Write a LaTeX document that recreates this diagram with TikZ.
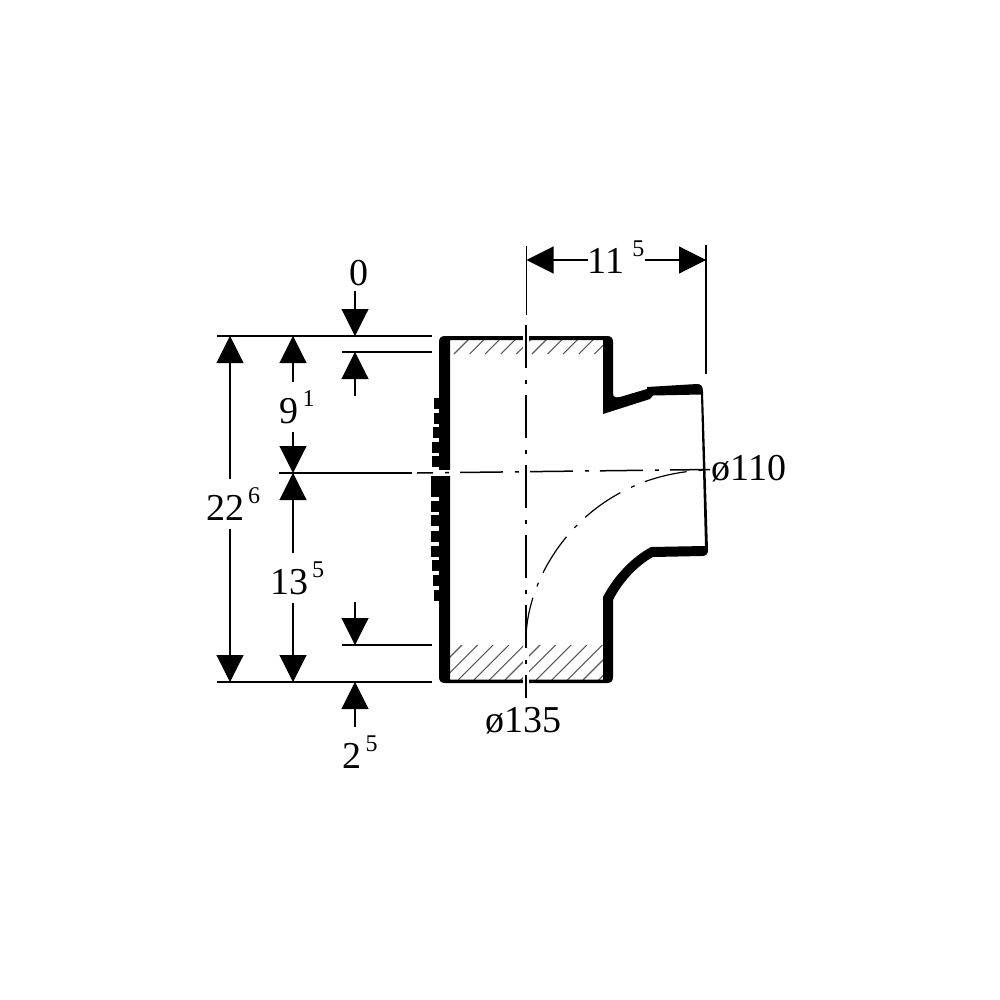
\documentclass[tikz,border=0pt]{standalone}
\usepackage{fontspec}
\setmainfont{Liberation Serif}
\usetikzlibrary{arrows.meta,calc}
\newcommand{\dimtext}[2]{\fontsize{38}{38}\selectfont #1\raisebox{17pt}{\fontsize{24}{24}\selectfont #2}}
\tikzset{
    dimline/.style={line width=1.1pt, black, -{Triangle[length=27pt,width=27pt]}},
    extline/.style={line width=1.1pt, black},
    axisline/.style={line width=1.5pt, black, dash pattern=on 43pt off 12pt on 4pt off 11pt},
    hatchline/.style={line width=1.1pt, black!65},
    dimlabel/.style={inner xsep=5pt, inner ysep=8pt, text=black},
}

\begin{document}
\begin{tikzpicture}[x=1pt, y=-1pt]
    \useasboundingbox (0,0) rectangle (1000,1000);
    % hatching
    \begin{scope}
        \clip (450,339) rectangle (603,354);
        \foreach \t in {0,...,10}
            \draw[hatchline] ({469+15.6*\t},339) -- ({454+15.6*\t},354);
    \end{scope}
    \begin{scope}
        \clip (450,645) rectangle (603,680);
        \foreach \t in {0,...,11}
            \draw[hatchline] ({462+15.6*\t},645) -- ({427+15.6*\t},680);
    \end{scope}
    % body
    \fill[black, even odd rule]
        (445,336) -- (607,336) .. controls (611,336) and (613,338) .. (613,342)
        -- (613,393) .. controls (613,397) and (615,398) .. (620,397)
        -- (647,389) -- (647,387) -- (697,384) .. controls (701,384) and (703,386) .. (703,392)
        -- (708,550) .. controls (708,554) and (706,556) .. (702,556)
        -- (653,557) .. controls (638,565) and (622,582) .. (613,600)
        -- (613,677) .. controls (613,681) and (611,683) .. (607,683)
        -- (445,683) .. controls (441,683) and (439,681) .. (439,677)
        -- (439,342) .. controls (439,338) and (441,336) .. (445,336) -- cycle
        (450,340) -- (603,340) -- (603,414) -- (650,399) -- (653,395.5) -- (701,394.5)
        -- (705,546) -- (651,547) .. controls (632,557) and (614,576) .. (603,597)
        -- (603,679.5) -- (450,679.5) -- cycle;
    % ribs
    \foreach \x/\y in {434/398,434/413,433/427,432/442,432/456,431/476,431/486,431/501,
        431/515,431/531,431/546,432/560,433/575,434/590}
        \fill[black] (\x,\y) rectangle (440,\y+10.5);
    % gaps for the axes
    \fill[white] (523,335) rectangle (529,354);
    \fill[white] (523,644) rectangle (529,684);
    \fill[white] (428,470) rectangle (451,476);
    % axes
    \coordinate (axisTop) at (526,325);
    \coordinate (axisBottom) at (526,698);
    \coordinate (axisLeft) at (417,473);
    \coordinate (axisRight) at (710,469.5);
    \coordinate (bendStart) at (526,640);
    \draw[axisline] (axisTop) -- (axisBottom);
    \draw[axisline, dash phase=27pt] (axisLeft) -- (axisRight);
    \draw[axisline, line width=1.2pt] (bendStart) .. controls (526,570) and (590,471) .. (712,470);
    % extension lines
    \coordinate (topA) at (217,336);
    \coordinate (topB) at (432,336);
    \coordinate (capA) at (342,352);
    \coordinate (capB) at (432,352);
    \coordinate (midA) at (279,473);
    \coordinate (midB) at (412,473);
    \coordinate (sockA) at (342,645);
    \coordinate (sockB) at (432,645);
    \coordinate (botA) at (217,682);
    \coordinate (botB) at (432,682);
    \coordinate (widthA) at (526.5,246);
    \coordinate (widthAend) at (526.5,315);
    \coordinate (widthB) at (706,245);
    \coordinate (widthBend) at (706,374);
    \draw[extline] (topA) -- (topB);
    \draw[extline] (capA) -- (capB);
    \draw[extline] (midA) -- (midB);
    \draw[extline] (sockA) -- (sockB);
    \draw[extline] (botA) -- (botB);
    \draw[extline] (widthA) -- (widthAend);
    \draw[extline] (widthB) -- (widthBend);
    % labels
    \node[dimlabel] (total) at (233,504) {\dimtext{22}{\,6}};
    \node[dimlabel] (upper) at (297,407) {\dimtext{9}{\,1}};
    \node[dimlabel] (lower) at (297,578) {\dimtext{13}{\,5}};
    \node[dimlabel, inner ysep=5pt] (cap) at (359,273) {\dimtext{0}{}};
    \node[dimlabel] (sock) at (360,752) {\dimtext{2}{\,5}};
    \node[dimlabel, inner xsep=0pt] (width) at (616,257) {\dimtext{11}{\,\,5}};
    \node[inner sep=0pt] (pipeA) at (749,469) {\fontsize{38}{38}\selectfont ø110};
    \node[inner sep=0pt] (pipeB) at (523,721) {\fontsize{38}{38}\selectfont ø135};
    % dimensions
    \draw[dimline] (total.north -| 230,0) -- (230,336);
    \draw[dimline] (total.south -| 230,0) -- (230,682);
    \draw[dimline] (upper.north -| 293,0) -- (293,336);
    \draw[dimline] (upper.south -| 293,0) -- (293,473);
    \draw[dimline] (lower.north -| 293,0) -- (293,473);
    \draw[dimline] (lower.south -| 293,0) -- (293,682);
    \draw[dimline] (cap.south -| 355,0) -- (355,336);
    \coordinate (capEnd) at (355,396);
    \draw[dimline] (capEnd) -- (355,352);
    \coordinate (sockEnd) at (355,602);
    \draw[dimline] (sockEnd) -- (355,645);
    \draw[dimline] (sock.north -| 355,0) -- (355,682);
    \draw[dimline] (width.west |- 0,260) -- (widthA |- 0,260);
    \draw[dimline] (width.east |- 0,260) -- (widthB |- 0,260);
\end{tikzpicture}
\end{document}
